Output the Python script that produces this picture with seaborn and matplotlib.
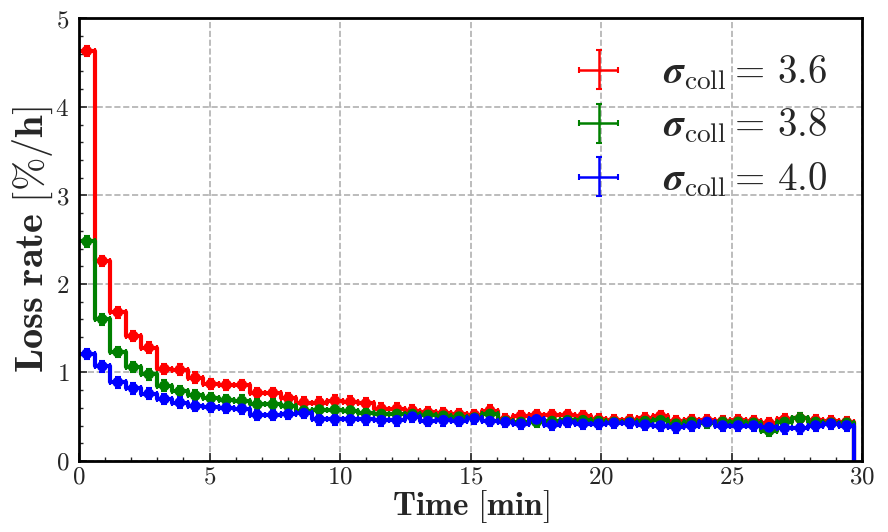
import numpy as np
import matplotlib
matplotlib.use('Agg')
import matplotlib.pyplot as plt
import seaborn as sns
from matplotlib.ticker import FuncFormatter, MultipleLocator

# data: loss rate [%/h] per time bin (50 bins from 0 to 29.7 min)
t_max = 29.7
n_bins = 50

loss_36 = [4.63, 2.26, 1.68, 1.41, 1.28, 1.04, 1.03, 0.94, 0.87, 0.86,
           0.86, 0.77, 0.77, 0.71, 0.66, 0.66, 0.68, 0.67, 0.65, 0.59,
           0.59, 0.57, 0.55, 0.54, 0.53, 0.52, 0.57, 0.47, 0.51, 0.52,
           0.52, 0.52, 0.51, 0.47, 0.46, 0.46, 0.48, 0.51, 0.45, 0.46,
           0.46, 0.45, 0.46, 0.45, 0.43, 0.47, 0.48, 0.46, 0.45, 0.44]
loss_38 = [2.48, 1.60, 1.23, 1.06, 0.98, 0.85, 0.79, 0.74, 0.71, 0.69,
           0.68, 0.64, 0.64, 0.62, 0.57, 0.58, 0.58, 0.57, 0.54, 0.53,
           0.53, 0.53, 0.52, 0.51, 0.50, 0.49, 0.53, 0.45, 0.44, 0.44,
           0.45, 0.46, 0.46, 0.45, 0.44, 0.44, 0.45, 0.46, 0.42, 0.44,
           0.43, 0.44, 0.44, 0.43, 0.34, 0.44, 0.48, 0.44, 0.43, 0.43]
loss_40 = [1.21, 1.07, 0.89, 0.82, 0.76, 0.70, 0.66, 0.62, 0.61, 0.60,
           0.59, 0.52, 0.52, 0.53, 0.54, 0.47, 0.47, 0.47, 0.47, 0.46,
           0.46, 0.50, 0.45, 0.46, 0.45, 0.48, 0.45, 0.44, 0.42, 0.47,
           0.41, 0.44, 0.42, 0.42, 0.43, 0.43, 0.41, 0.40, 0.38, 0.40,
           0.44, 0.40, 0.40, 0.40, 0.38, 0.37, 0.37, 0.40, 0.42, 0.40]
loss_err = 0.06

sigmas = ['3.6', '3.8', '4.0']
colors = ['red', 'green', 'blue']
series = [loss_36, loss_38, loss_40]

edges = np.linspace(0, t_max, n_bins + 1)
centers = 0.5 * (edges[:-1] + edges[1:])
half_w = 0.5 * (edges[1] - edges[0])

sns.set_style('white')
plt.rcParams['mathtext.fontset'] = 'cm'
plt.rcParams['font.family'] = ['DejaVu Serif']

fig = plt.figure(figsize=(8.88, 5.32), dpi=100)
ax = fig.add_axes([0.089, 0.1335, 0.882, 0.832])

for vals, col, sig in zip(series, colors, sigmas):
    y_step = np.append(vals, 0)
    sns.lineplot(x=edges, y=y_step, drawstyle='steps-post', estimator=None,
                 sort=False, color=col, linewidth=3, ax=ax, legend=False)
    ax.errorbar(centers, vals, xerr=half_w, yerr=loss_err, fmt='none',
                ecolor=col, elinewidth=1.8, capsize=2.5, capthick=1.5,
                label=r'$\boldsymbol{\sigma}_{\mathrm{coll}}\mathbf{=}\,\mathbf{%s}$' % sig)
    sns.scatterplot(x=centers, y=vals, color=col, s=60, edgecolor='none',
                    ax=ax, legend=False, zorder=5)

ax.set_xlim(0, 30)
ax.set_ylim(0, 5)
ax.xaxis.set_major_locator(MultipleLocator(5))
ax.xaxis.set_minor_locator(MultipleLocator(1))
ax.yaxis.set_major_locator(MultipleLocator(1))
ax.yaxis.set_minor_locator(MultipleLocator(0.2))
fmt = FuncFormatter(lambda v, p: r'$\mathbf{%d}$' % v)
ax.xaxis.set_major_formatter(fmt)
ax.yaxis.set_major_formatter(fmt)
ax.tick_params(which='both', direction='in', bottom=True, left=True,
               top=False, right=False, labelsize=18)
ax.tick_params(axis='x', which='major', pad=3)
ax.tick_params(axis='y', which='major', pad=7)
ax.tick_params(which='major', length=6, width=1.2)
ax.tick_params(which='minor', length=3, width=1)
ax.grid(True, which='major', linestyle='--', color='#b0b0b0', linewidth=1.2)
for sp in ax.spines.values():
    sp.set_color('black')
    sp.set_linewidth(2)

ax.set_xlabel(r'$\mathbf{Time\ [min]}$', fontsize=24, labelpad=0)
ax.set_ylabel(r'$\mathbf{Loss\ rate\ [\%/h]}$', fontsize=29, labelpad=0)

ax.legend(loc='upper right', frameon=False, fontsize=28, handlelength=1.3,
          handletextpad=1.0, labelspacing=0.38, borderaxespad=0.5)

fig.savefig('out.png', dpi=100)
